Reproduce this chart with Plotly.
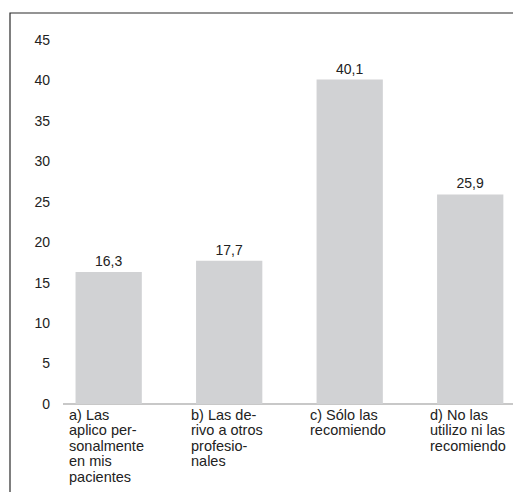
import plotly.graph_objects as go

categories = ["a", "b", "c", "d"]
category_labels = [
    ["a) Las", "aplico per-", "sonalmente", "en mis", "pacientes"],
    ["b) Las de-", "rivo a otros", "profesio-", "nales"],
    ["c) Sólo las", "recomiendo"],
    ["d) No las", "utilizo ni las", "recomiendo"],
]
values = [16.3, 17.7, 40.1, 25.9]
y_ticks = [0, 5, 10, 15, 20, 25, 30, 35, 40, 45]

FONT = "Liberation Sans, Arial, sans-serif"
FS = 14
FSX = 14.5
BAR = "#D1D2D4"
TXT = "#222222"

# approximate Arial advance widths (em) to size left-aligned label blocks
W = {"f": .278, "i": .222, "j": .222, "l": .222, "r": .333, "t": .278,
     " ": .278, ")": .333, "(": .333, "-": .333, "c": .5, "k": .5, "s": .5,
     "v": .5, "x": .5, "y": .5, "z": .5, "m": .833, "w": .722,
     "S": .667, "N": .722}


def text_w(s, fs):
    return sum(W.get(ch, .556) for ch in s) * fs


fig = go.Figure()
fig.add_trace(go.Bar(
    x=list(range(len(categories))),
    y=values,
    width=0.55,
    marker=dict(color=BAR, line=dict(width=0)),
    texttemplate="%{y:.1f}",
    textposition="outside",
    textfont=dict(family=FONT, size=FS, color=TXT),
    cliponaxis=False,
    hoverinfo="skip",
))

annotations = []
LINE = 15.4
for i, lines in enumerate(category_labels):
    bw = max(text_w(l, FSX) for l in lines) + 4
    for j, line in enumerate(lines):
        annotations.append(dict(
            x=i, xref="x", y=0, yref="y",
            text=line, showarrow=False,
            xanchor="center", yanchor="top",
            yshift=-1 - j * LINE,
            font=dict(family=FONT, size=FSX, color=TXT),
            align="left", width=bw,
        ))

fig.update_layout(
    width=513, height=492,
    margin=dict(l=63, r=0, t=14, b=88),
    paper_bgcolor="white", plot_bgcolor="white",
    separators=",.",
    showlegend=False,
    annotations=annotations,
    shapes=[dict(
        type="rect", xref="paper", yref="paper",
        x0=-53 / 450, x1=1.1, y0=-0.5, y1=1 + 1 / 390,
        line=dict(color="#2a2a2a", width=1.2), layer="below",
    )],
    xaxis=dict(
        range=[-0.379, 3.355], showticklabels=False, showgrid=False,
        zeroline=False, showline=False, ticks="",
    ),
    yaxis=dict(
        range=[0, 48.2], tickvals=y_ticks, showgrid=False,
        zeroline=True, zerolinecolor="#C8C8C8", zerolinewidth=1.5,
        showline=False, ticks="", ticklabelstandoff=12,
        tickfont=dict(family=FONT, size=FS, color=TXT),
    ),
)

fig.write_html(
    "out.html",
    config={"displayModeBar": False},
    post_script="document.body.style.margin='0';document.body.style.overflow='hidden';",
)
